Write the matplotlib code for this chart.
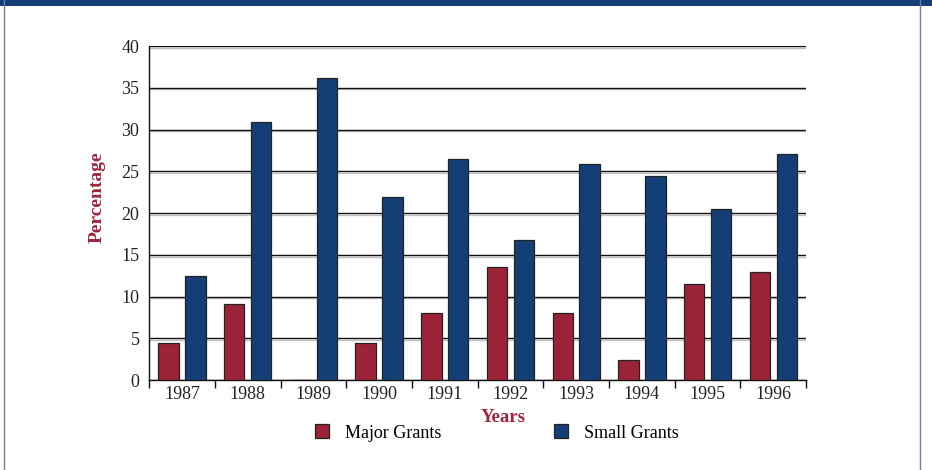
import numpy as np
import matplotlib.pyplot as plt
import matplotlib.patheffects as pe
from matplotlib.patches import Rectangle, Patch
from matplotlib.lines import Line2D

plt.rcParams['font.family'] = ['Liberation Serif', 'DejaVu Serif']

# Grant share by year
years = ["1987", "1988", "1989", "1990", "1991", "1992", "1993", "1994", "1995", "1996"]
major_grants = [4.5, 9.1, 0.0, 4.5, 8.1, 13.5, 8.0, 2.4, 11.5, 12.9]
small_grants = [12.5, 30.9, 36.2, 21.9, 26.5, 16.8, 25.9, 24.4, 20.5, 27.1]

RED = "#9c2238"
BLUE = "#143f76"
LABEL_RED = "#a0253c"

fig = plt.figure(figsize=(9.32, 4.70), dpi=100)
ax = fig.add_axes([0.160, 0.191, 0.705, 0.711])

x = np.arange(len(years))
w = 0.31
ax.bar(x - 0.205, major_grants, w, color=RED, edgecolor="#222222", linewidth=0.9, zorder=3)
ax.bar(x + 0.205, small_grants, w, color=BLUE, edgecolor="#222222", linewidth=0.9, zorder=3)

ax.set_xlim(-0.5, len(years) - 0.5)
ax.set_ylim(0, 40)
ax.set_yticks(range(0, 41, 5))

# category labels centred, tick marks between groups
ax.set_xticks(x)
ax.set_xticklabels(years, fontsize=13, color="#222222")
ax.set_xticks(np.arange(-0.5, len(years)), minor=True)
ax.tick_params(axis="x", which="major", length=0, pad=4)
ax.tick_params(axis="x", which="minor", length=6, width=1, direction="out", color="#111111")
ax.tick_params(axis="y", length=0, pad=7, labelsize=13, labelcolor="#222222")

# horizontal gridlines with a faint shadow
ax.yaxis.grid(True, color="#111111", linewidth=1.0, zorder=1)
for gl in ax.yaxis.get_gridlines():
    gl.set_path_effects([pe.SimpleLineShadow(offset=(0, -1.2), shadow_color="#999999", alpha=0.6), pe.Normal()])
ax.set_axisbelow(True)

for side in ["top", "right"]:
    ax.spines[side].set_visible(False)
ax.spines["left"].set_color("#111111")
ax.spines["bottom"].set_color("#111111")
ax.spines["left"].set_linewidth(1.0)
ax.spines["bottom"].set_linewidth(1.0)

fig.text(0.104, 0.58, "Percentage", rotation=90, ha="center", va="center",
         fontsize=14, fontweight="bold", color=LABEL_RED)
fig.text(0.540, 1 - 417 / 470, "Years", ha="center", va="center",
         fontsize=13.5, fontweight="bold", color=LABEL_RED)

handles = [Patch(facecolor=RED, edgecolor="#222222", linewidth=0.9),
           Patch(facecolor=BLUE, edgecolor="#222222", linewidth=0.9)]
fig.legend(handles, ["Major Grants", "Small Grants"], loc="center",
           bbox_to_anchor=(0.533, 1 - 433 / 470), ncol=2, frameon=False,
           fontsize=13, handlelength=0.8, handleheight=0.8,
           handletextpad=0.9, columnspacing=6.2)

# page frame: heavy top band and thin side rules
fig.patches.append(Rectangle((0, 1 - 6 / 470), 1, 6 / 470, transform=fig.transFigure,
                             facecolor=BLUE, edgecolor="none"))
fig.lines.append(Line2D([4 / 932, 4 / 932], [0, 1], transform=fig.transFigure,
                        color="#6f7f9c", linewidth=1.0))
fig.lines.append(Line2D([920 / 932, 920 / 932], [0, 1], transform=fig.transFigure,
                        color="#6f7f9c", linewidth=1.0))

fig.savefig("out.png", dpi=100)
